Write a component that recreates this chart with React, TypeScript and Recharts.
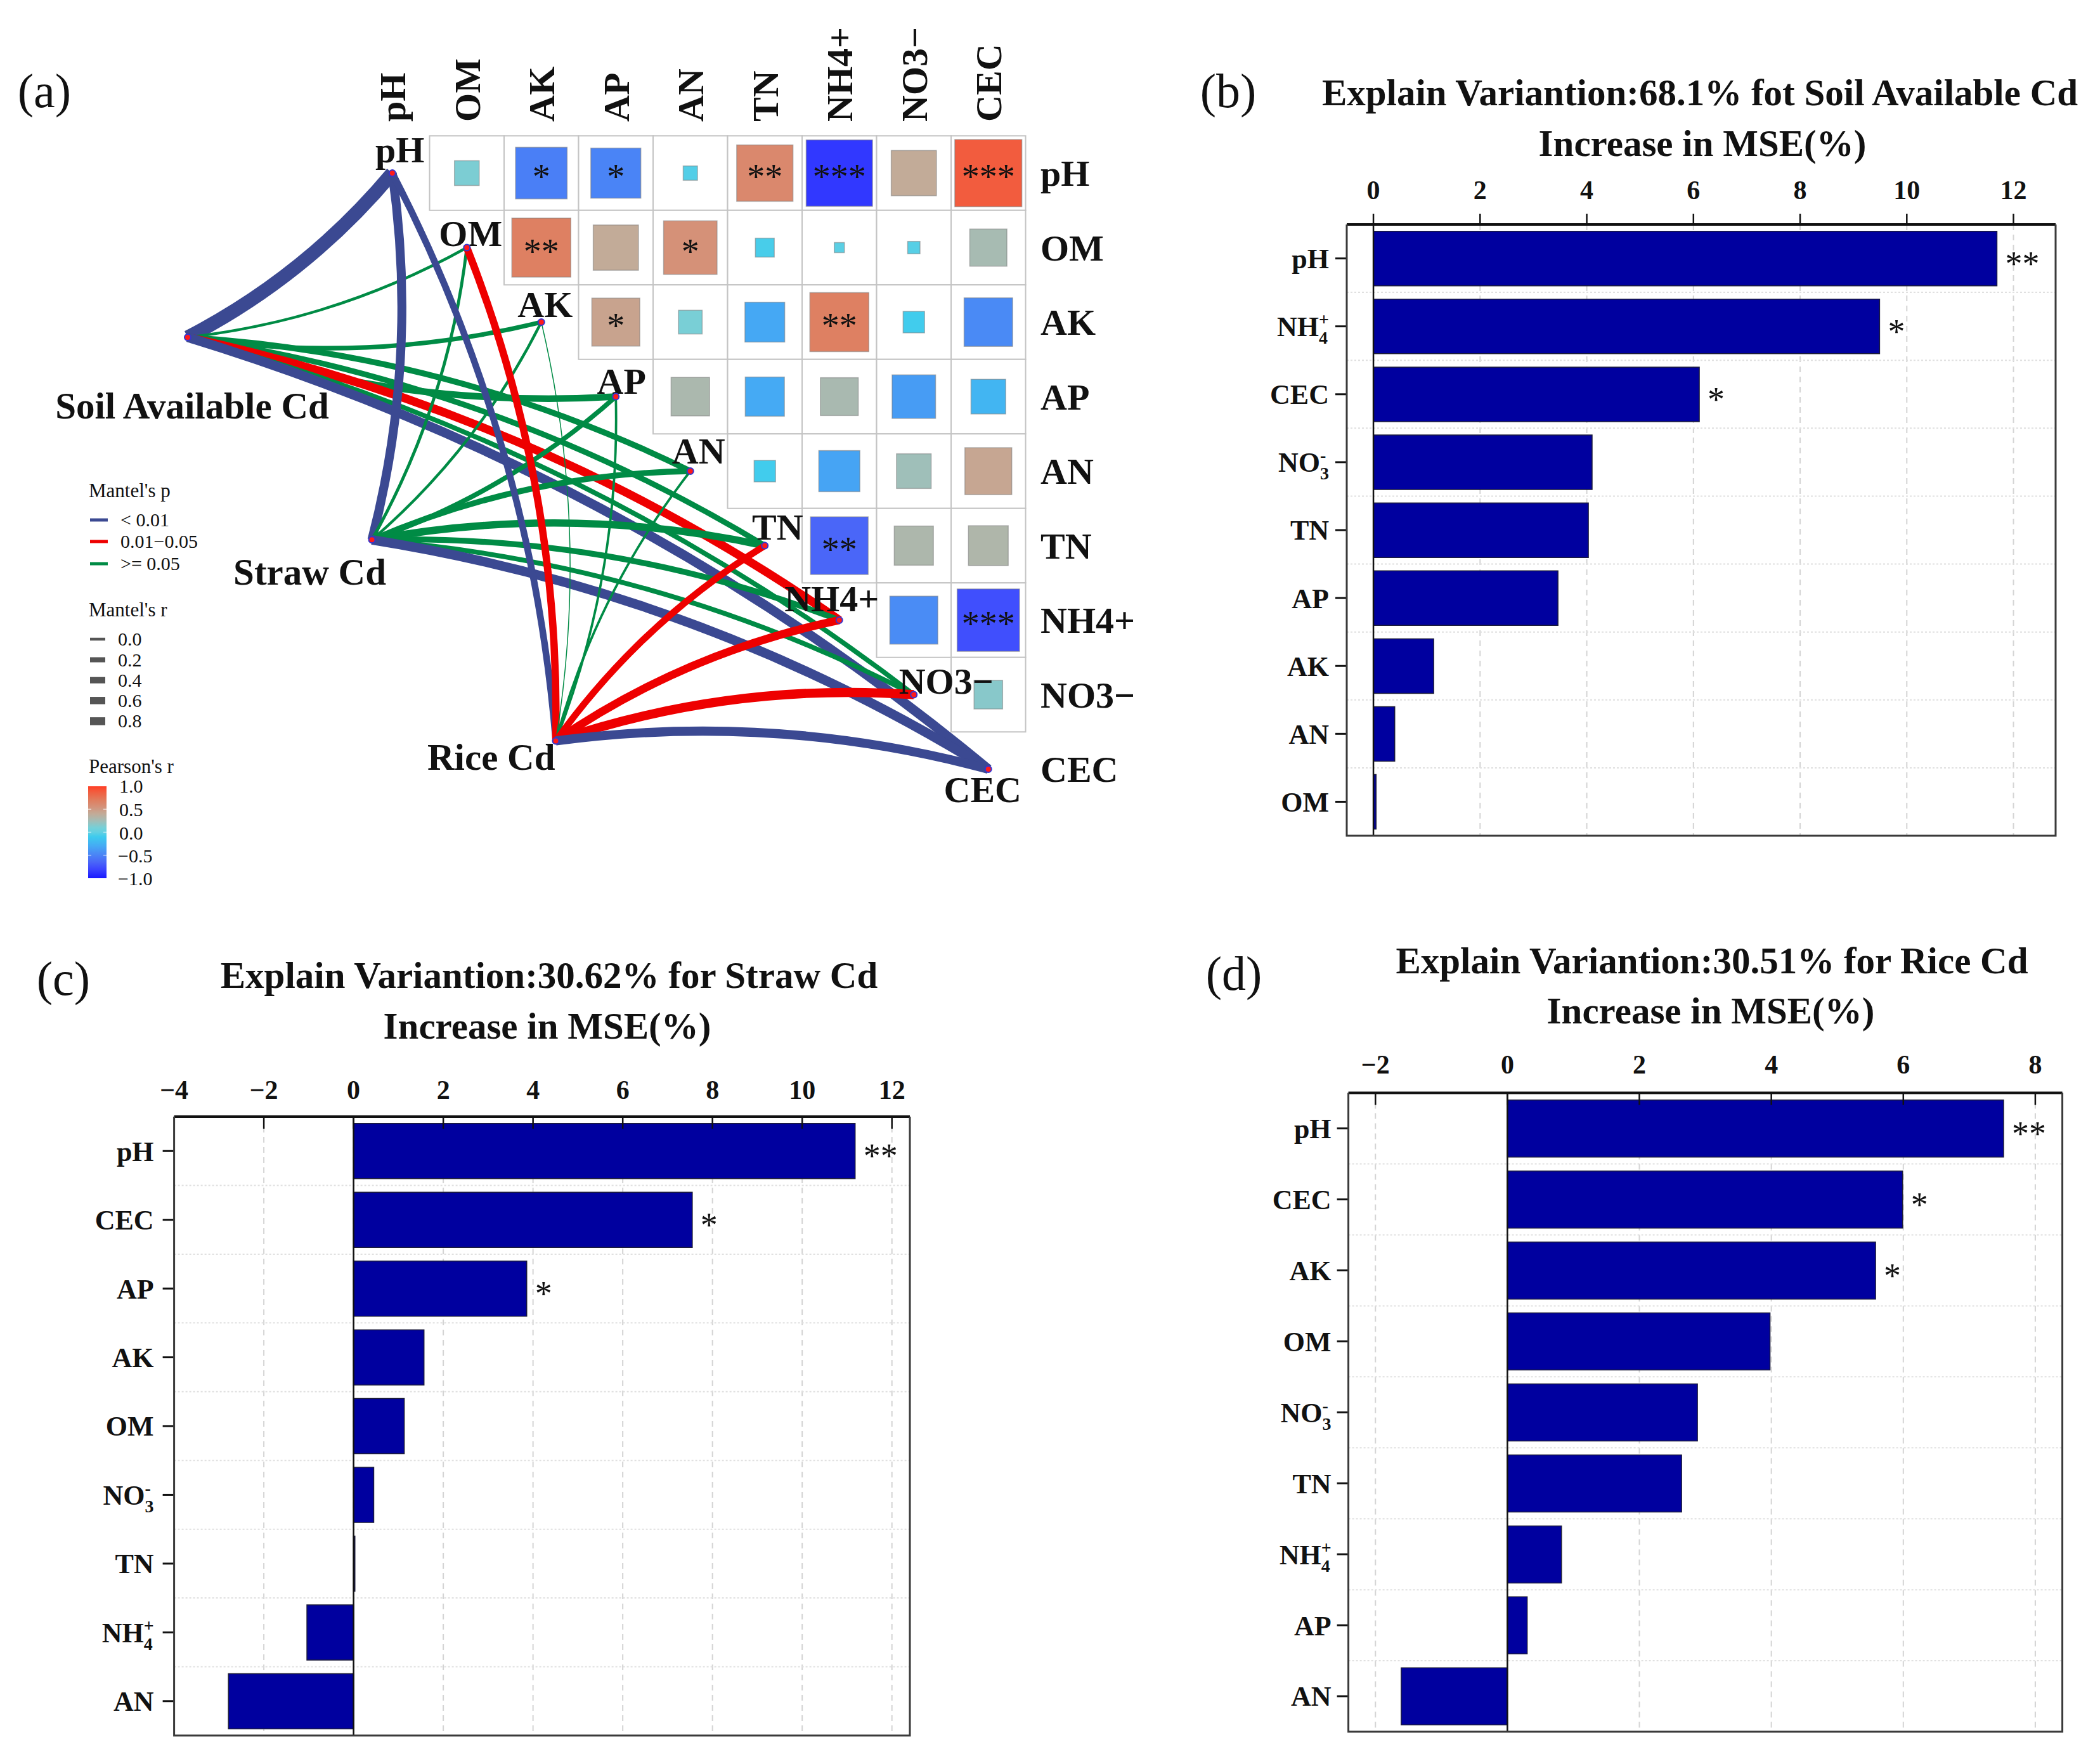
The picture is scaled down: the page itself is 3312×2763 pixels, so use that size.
import React from "react";
import {
  ScatterChart,
  Scatter,
  XAxis,
  YAxis,
  BarChart,
  Bar,
  CartesianGrid,
  ReferenceLine,
  LabelList,
} from "recharts";

const SERIF = '"Liberation Serif", "Times New Roman", Times, serif';

// ---------------- panel (a) data ----------------
const VARS = ["pH", "OM", "AK", "AP", "AN", "TN", "NH4+", "NO3−", "CEC"];

// Pearson's r, upper triangle: row i holds columns i+1..8
const PEARSON_R = [
  [0.12, -0.52, -0.49, -0.04, 0.62, -0.86, 0.4, 0.88],
  [0.68, 0.4, 0.56, -0.07, -0.02, -0.03, 0.27],
  [0.45, 0.11, -0.31, 0.68, -0.09, -0.46],
  [0.29, -0.3, 0.28, -0.37, -0.235],
  [-0.09, -0.33, 0.235, 0.43],
  [-0.65, 0.3, 0.31],
  [-0.45, -0.76],
  [0.16],
];
const PEARSON_SIG = [
  ["", "*", "*", "", "**", "***", "", "***"],
  ["**", "", "*", "", "", "", ""],
  ["*", "", "", "**", "", ""],
  ["", "", "", "", ""],
  ["", "", "", ""],
  ["**", "", ""],
  ["", "***"],
  [""],
];

const ENV_NAMES = ["Soil Available Cd", "Straw Cd", "Rice Cd"];
// env node positions in cell units (column, row)
const ENV_U = [-2.747, -0.274, 2.194];
const ENV_V = [2.204, 4.922, 7.621];

const MANTEL_P = [
  ["<0.01", ">=0.05", ">=0.05", ">=0.05", ">=0.05", ">=0.05", "0.01-0.05", ">=0.05", "<0.01"],
  ["<0.01", ">=0.05", ">=0.05", ">=0.05", ">=0.05", ">=0.05", ">=0.05", ">=0.05", "<0.01"],
  ["<0.01", "0.01-0.05", ">=0.05", ">=0.05", ">=0.05", "0.01-0.05", "0.01-0.05", "0.01-0.05", "<0.01"],
];
const MANTEL_R = [
  [0.72, 0.1, 0.2, 0.32, 0.28, 0.26, 0.42, 0.22, 0.48],
  [0.45, 0.12, 0.1, 0.22, 0.28, 0.36, 0.28, 0.22, 0.48],
  [0.32, 0.36, 0.0, 0.08, 0.08, 0.32, 0.4, 0.46, 0.46],
];

// ---------------- panels (b)-(d) data ----------------
const B_CATS = ["pH", "NH4+", "CEC", "NO3-", "TN", "AP", "AK", "AN", "OM"];
const B_VALUES = [11.69, 9.49, 6.11, 4.1, 4.03, 3.46, 1.13, 0.4, 0.05];
const B_SIG = ["**", "*", "*", "", "", "", "", "", ""];
const B_TICKS = [0, 2, 4, 6, 8, 10, 12];

const C_CATS = ["pH", "CEC", "AP", "AK", "OM", "NO3-", "TN", "NH4+", "AN"];
const C_VALUES = [11.18, 7.55, 3.86, 1.57, 1.13, 0.45, 0.03, -1.04, -2.79];
const C_SIG = ["**", "*", "*", "", "", "", "", "", ""];
const C_TICKS = [-4, -2, 0, 2, 4, 6, 8, 10, 12];

const D_CATS = ["pH", "CEC", "AK", "OM", "NO3-", "TN", "NH4+", "AP", "AN"];
const D_VALUES = [7.52, 5.99, 5.58, 3.98, 2.88, 2.64, 0.82, 0.3, -1.61];
const D_SIG = ["**", "*", "*", "", "", "", "", "", ""];
const D_TICKS = [-2, 0, 2, 4, 6, 8];

// ---------------- styles ----------------
const P_COLORS: Record<string, string> = {
  "<0.01": "#3B4992",
  "0.01-0.05": "#EE0000",
  ">=0.05": "#008B45",
};
const R_STOPS = [-1, -0.8, -0.65, -0.45, -0.3, -0.1, 0, 0.1, 0.25, 0.4, 0.55, 0.7, 0.9, 1];
const R_COLS = [
  "#1818ff", "#3c46ff", "#4a66f8", "#4a8cf5", "#45aaf4", "#3dcbee", "#62d0e2",
  "#76d0d8", "#a3bdb6", "#c2ab98", "#d4927a", "#e07d5e", "#f4583a", "#ff3d24",
];

function hexToRgb(h: string) {
  const n = parseInt(h.slice(1), 16);
  return [(n >> 16) & 255, (n >> 8) & 255, n & 255];
}
function rColor(r: number) {
  const v = Math.max(-1, Math.min(1, r));
  let k = 0;
  while (k < R_STOPS.length - 2 && v > R_STOPS[k + 1]) k++;
  const t = (v - R_STOPS[k]) / (R_STOPS[k + 1] - R_STOPS[k]);
  const a = hexToRgb(R_COLS[k]);
  const b = hexToRgb(R_COLS[k + 1]);
  const c = a.map((x, i) => Math.round(x + (b[i] - x) * t));
  return `rgb(${c[0]},${c[1]},${c[2]})`;
}

// layout of panel (a)
const A_W = 1800;
const A_H = 1450;
const CELL = 117.5;
const COL0_X = 618.75;
const ROW0_Y = 273;
const U_DOMAIN = [-COL0_X / CELL, (A_W - COL0_X) / CELL];
const V_DOMAIN = [-ROW0_Y / CELL, (A_H - ROW0_Y) / CELL];
const HEAD_V = -0.69;
const SIDE_U = 8.7;
// label offsets (px) from node: [dx to text centre, dy to baseline]
const DIAG_LABEL_OFF = [
  [12, -17], [6, -3], [6, -8], [9, -5], [13, -12], [20, -10], [-12, -14], [51, -2], [-9, 52],
];
const ENV_LABEL_OFF: [number, number, "start" | "middle" | "end"][] = [
  [7, 128, "middle"],
  [-98, 71, "middle"],
  [-1, 46, "end"],
];

const NoShape = () => <g />;

const CellFrame = (p: any) => (
  <rect
    x={p.cx - CELL / 2}
    y={p.cy - CELL / 2}
    width={CELL}
    height={CELL}
    fill="#fff"
    stroke="#c4c4c4"
    strokeWidth={2}
  />
);

const CellSquare = (p: any) => {
  const r = p.payload.r;
  const s = CELL * 0.96 * Math.sqrt(Math.abs(r));
  return (
    <g>
      <rect
        x={p.cx - s / 2}
        y={p.cy - s / 2}
        width={s}
        height={s}
        fill={rColor(r)}
        stroke="#808080"
        strokeOpacity={0.55}
        strokeWidth={1.5}
      />
      {p.payload.sig ? (
        <text x={p.cx} y={p.cy + 25} textAnchor="middle" fontFamily={SERIF} fontSize={56} fill="#111">
          {p.payload.sig}
        </text>
      ) : null}
    </g>
  );
};

const HeadLabel = (p: any) => (
  <text
    x={p.cx}
    y={p.cy}
    dy="0.35em"
    transform={`rotate(-90, ${p.cx}, ${p.cy})`}
    textAnchor="start"
    fontFamily={SERIF}
    fontWeight="bold"
    fontSize={58}
    fill="#111"
  >
    {p.payload.name}
  </text>
);

const SideLabel = (p: any) => (
  <text x={p.cx} y={p.cy} dy="0.35em" fontFamily={SERIF} fontWeight="bold" fontSize={58} fill="#111">
    {p.payload.name}
  </text>
);

const DiagNode = (p: any) => {
  const i = p.payload.i;
  const [dx, dy] = DIAG_LABEL_OFF[i];
  return (
    <g>
      <text
        x={p.cx + dx}
        y={p.cy + dy}
        textAnchor="middle"
        fontFamily={SERIF}
        fontWeight="bold"
        fontSize={58}
        fill="#111"
      >
        {VARS[i]}
      </text>
      <circle cx={p.cx} cy={p.cy} r={5} fill="#ff1a1a" stroke="#3535d0" strokeWidth={2} />
    </g>
  );
};

const EnvNode = (p: any) => {
  const e = p.payload.e;
  const [dx, dy, anchor] = ENV_LABEL_OFF[e];
  return (
    <g>
      <text
        x={p.cx + dx}
        y={p.cy + dy}
        textAnchor={anchor}
        fontFamily={SERIF}
        fontWeight="bold"
        fontSize={59}
        fill="#111"
      >
        {ENV_NAMES[e]}
      </text>
      <circle cx={p.cx} cy={p.cy} r={5} fill="#ff1a1a" stroke="#3535d0" strokeWidth={2} />
    </g>
  );
};

// curved Mantel link; bends to one side depending on the target variable
const makeEdge = (e: number, k: number) => (lp: any) => {
  const pts = lp.points || [];
  if (pts.length < 2) return <g />;
  const a = pts[0];
  const b = pts[1];
  const dx = b.x - a.x;
  const dy = b.y - a.y;
  const s = (k <= 3 ? 1 : -1) * 0.1;
  const mx = (a.x + b.x) / 2 - dy * s;
  const my = (a.y + b.y) / 2 + dx * s;
  return (
    <path
      d={`M${a.x},${a.y}Q${mx},${my} ${b.x},${b.y}`}
      fill="none"
      stroke={P_COLORS[MANTEL_P[e][k]]}
      strokeWidth={1.5 + 28 * MANTEL_R[e][k]}
    />
  );
};

function MantelPanel() {
  const frames: any[] = [];
  const squares: any[] = [];
  PEARSON_R.forEach((row, i) =>
    row.forEach((r, k) => {
      const j = i + 1 + k;
      frames.push({ u: j, v: i });
      squares.push({ u: j, v: i, r, sig: PEARSON_SIG[i][k] });
    })
  );
  const diag = VARS.map((_, i) => ({ u: i, v: i, i }));
  const heads = VARS.map((name, j) => ({ u: j, v: HEAD_V, name }));
  const sides = VARS.map((name, i) => ({ u: SIDE_U, v: i, name }));
  const envs = ENV_NAMES.map((_, e) => ({ u: ENV_U[e], v: ENV_V[e], e }));
  const edges: { e: number; k: number }[] = [];
  ENV_NAMES.forEach((_, e) => VARS.forEach((__, k) => edges.push({ e, k })));

  return (
    <div style={{ position: "absolute", left: 0, top: 0 }}>
      <ScatterChart width={A_W} height={A_H} margin={{ top: 0, right: 0, bottom: 0, left: 0 }}>
        <XAxis type="number" dataKey="u" domain={U_DOMAIN} allowDataOverflow hide />
        <YAxis type="number" dataKey="v" domain={V_DOMAIN} allowDataOverflow reversed hide />
        <Scatter data={frames} shape={CellFrame} isAnimationActive={false} />
        <Scatter data={squares} shape={CellSquare} isAnimationActive={false} />
        {edges.map(({ e, k }) => (
          <Scatter
            key={`edge-${e}-${k}`}
            data={[envs[e], diag[k]]}
            line={makeEdge(e, k)}
            lineType="joint"
            shape={NoShape}
            isAnimationActive={false}
          />
        ))}
        <Scatter data={heads} shape={HeadLabel} isAnimationActive={false} />
        <Scatter data={sides} shape={SideLabel} isAnimationActive={false} />
        <Scatter data={diag} shape={DiagNode} isAnimationActive={false} />
        <Scatter data={envs} shape={EnvNode} isAnimationActive={false} />
      </ScatterChart>
    </div>
  );
}

// ---------------- bar panels ----------------
type PanelCfg = {
  left: number;
  top: number;
  width: number;
  height: number;
  plot: { l: number; t: number; r: number; b: number };
  yw: number;
  domain: [number, number];
  ticks: number[];
  tickInside: boolean;
  labelBase: number; // page y of tick label baseline
  yLabelGap: number;
};

const PANEL_B: PanelCfg = {
  left: 1880, top: 200, width: 1432, height: 1200,
  plot: { l: 2124, t: 354, r: 3242, b: 1318 },
  yw: 150, domain: [-0.5, 12.79], ticks: B_TICKS, tickInside: false, labelBase: 314, yLabelGap: 28,
};
const PANEL_C: PanelCfg = {
  left: 0, top: 1650, width: 1500, height: 1113,
  plot: { l: 274.6, t: 1761, r: 1435, b: 2737 },
  yw: 160, domain: [-4, 12.4], ticks: C_TICKS, tickInside: true, labelBase: 1733, yLabelGap: 32,
};
const PANEL_D: PanelCfg = {
  left: 1880, top: 1600, width: 1432, height: 1163,
  plot: { l: 2126.6, t: 1723.6, r: 3252.6, b: 2731 },
  yw: 150, domain: [-2.41, 8.41], ticks: D_TICKS, tickInside: true, labelBase: 1693, yLabelGap: 27,
};

const CatLabel = ({ x, y, name }: { x: number; y: number; name: string }) => {
  const common = { x, y, textAnchor: "end" as const, fontFamily: SERIF, fontWeight: "bold", fontSize: 44, fill: "#111" };
  if (name === "NH4+" || name === "NO3-") {
    const base = name === "NH4+" ? "NH" : "NO";
    const sub = name === "NH4+" ? "4" : "3";
    const sup = name === "NH4+" ? "+" : "-";
    return (
      <text {...common} dy="0.35em">
        {base}
        <tspan fontSize={28} dy={12}>
          {sub}
        </tspan>
        <tspan fontSize={28} dx={-14} dy={-29}>
          {sup}
        </tspan>
      </text>
    );
  }
  return (
    <text {...common} dy="0.35em">
      {name}
    </text>
  );
};

const StarLabel = (p: any) => {
  if (!p.value) return null;
  const vb = p.viewBox || p;
  const x = vb.x + vb.width + 13;
  const y = vb.y + vb.height / 2 + 26;
  return (
    <text x={x} y={y} fontFamily={SERIF} fontSize={54} fill="#111">
      {p.value}
    </text>
  );
};

function ImportancePanel({ cfg, cats, values, sigs }: { cfg: PanelCfg; cats: string[]; values: number[]; sigs: string[] }) {
  const data = cats.map((name, i) => ({ name, value: values[i], sig: sigs[i] }));
  const axisH = 60;
  const plotTop = cfg.plot.t - cfg.top;
  const plotLeft = cfg.plot.l - cfg.left;
  const plotH = cfg.plot.b - cfg.plot.t;
  const margin = {
    top: plotTop - axisH,
    left: plotLeft - cfg.yw,
    right: cfg.left + cfg.width - cfg.plot.r,
    bottom: cfg.top + cfg.height - cfg.plot.b,
  };
  const bounds = cats.slice(1).map((_, k) => plotTop + ((k + 1) * plotH) / cats.length);
  const labelY = cfg.labelBase - cfg.top;

  const xTick = (p: any) => {
    const v = p.payload.value;
    const x = p.x;
    const txt = v < 0 ? `−${Math.abs(v)}` : String(v);
    const y1 = plotTop;
    const y2 = cfg.tickInside ? plotTop + 19 : plotTop - 17;
    return (
      <g>
        <text x={x} y={labelY} textAnchor="middle" fontFamily={SERIF} fontWeight="bold" fontSize={42} fill="#111">
          {txt}
        </text>
        {v !== cfg.domain[0] ? <line x1={x} x2={x} y1={y1} y2={y2} stroke="#111" strokeWidth={2.5} /> : null}
      </g>
    );
  };
  const yTick = (p: any) => (
    <g>
      <line x1={plotLeft - 18} x2={plotLeft} y1={p.y} y2={p.y} stroke="#111" strokeWidth={3} />
      <CatLabel x={plotLeft - cfg.yLabelGap} y={p.y} name={p.payload.value} />
    </g>
  );

  return (
    <div style={{ position: "absolute", left: cfg.left, top: cfg.top }}>
      <BarChart
        width={cfg.width}
        height={cfg.height}
        data={data}
        layout="vertical"
        margin={margin}
        barCategoryGap="10%"
      >
        <CartesianGrid horizontal={false} stroke="#d4d4d4" strokeDasharray="9 7" strokeWidth={2} />
        <CartesianGrid
          vertical={false}
          horizontalCoordinatesGenerator={() => bounds}
          stroke="#e0e0e0"
          strokeDasharray="3 3"
          strokeWidth={2}
        />
        <XAxis
          type="number"
          orientation="top"
          domain={cfg.domain}
          ticks={cfg.ticks}
          allowDataOverflow
          interval={0}
          height={axisH}
          axisLine={{ stroke: "#111", strokeWidth: 4 }}
          tickLine={false}
          tick={xTick}
        />
        <YAxis
          type="category"
          dataKey="name"
          width={cfg.yw}
          interval={0}
          axisLine={false}
          tickLine={false}
          tick={yTick}
        />
        <ReferenceLine x={0} stroke="#111" strokeWidth={2.5} />
        <Bar dataKey="value" fill="#00009f" stroke="#1c1c3a" strokeWidth={1.5} isAnimationActive={false}>
          <LabelList dataKey="sig" content={StarLabel} />
        </Bar>
      </BarChart>
    </div>
  );
}

// ---------------- overlay: titles, legend, frames ----------------
const T = ({ x, y, size, bold, anchor, children }: any) => (
  <text
    x={x}
    y={y}
    fontSize={size}
    fontWeight={bold ? "bold" : "normal"}
    textAnchor={anchor || "start"}
    fontFamily={SERIF}
    fill="#111"
  >
    {children}
  </text>
);

const LEGEND_P = ["< 0.01", "0.01−0.05", ">= 0.05"];
const LEGEND_P_KEYS = ["<0.01", "0.01-0.05", ">=0.05"];
const LEGEND_R = ["0.0", "0.2", "0.4", "0.6", "0.8"];
const LEGEND_R_H = [4.5, 8, 10, 11.5, 12.5];
const LEGEND_PEARSON = ["1.0", "0.5", "0.0", "−0.5", "−1.0"];

function Frame({ cfg }: { cfg: PanelCfg }) {
  const { l, t, r, b } = cfg.plot;
  return <path d={`M${l},${t} V${b} H${r} V${t}`} fill="none" stroke="#3a3a3a" strokeWidth={3} />;
}

function Overlay() {
  const pY = [820, 854, 889];
  const rY = [1008, 1040.5, 1072.7, 1104.8, 1137.4];
  const cbTop = 1240;
  const cbBot = 1385;
  const cbLabY = [1250, 1287, 1324, 1359.5, 1396];
  return (
    <svg
      width={3312}
      height={2763}
      style={{ position: "absolute", left: 0, top: 0, pointerEvents: "none" }}
    >
      <defs>
        <linearGradient id="pearsonBar" x1="0" y1="0" x2="0" y2="1">
          {R_STOPS.map((r, i) => (
            <stop key={i} offset={(1 - r) / 2} stopColor={R_COLS[i]} />
          )).reverse()}
        </linearGradient>
      </defs>

      {/* panel letters */}
      <T x={70} y={169} size={76} anchor="middle">(a)</T>
      <T x={1937} y={169} size={76} anchor="middle">(b)</T>
      <T x={100} y={1569} size={76} anchor="middle">(c)</T>
      <T x={1946} y={1561} size={76} anchor="middle">(d)</T>

      {/* titles */}
      <T x={2681} y={166} size={59} bold anchor="middle">Explain Variantion:68.1% fot Soil Available Cd</T>
      <T x={2685} y={246} size={59} bold anchor="middle">Increase in MSE(%)</T>
      <T x={866} y={1558} size={59} bold anchor="middle">Explain Variantion:30.62% for Straw Cd</T>
      <T x={863} y={1638} size={59} bold anchor="middle">Increase in MSE(%)</T>
      <T x={2700} y={1535} size={59} bold anchor="middle">Explain Variantion:30.51% for Rice Cd</T>
      <T x={2698} y={1614} size={59} bold anchor="middle">Increase in MSE(%)</T>

      {/* panel (a) legend */}
      <T x={140} y={784} size={31}>Mantel's p</T>
      {LEGEND_P.map((lab, i) => (
        <g key={lab}>
          <rect x={142} y={pY[i] - 2.5} width={28} height={5} fill={P_COLORS[LEGEND_P_KEYS[i]]} />
          <T x={190} y={pY[i] + 10} size={30}>{lab}</T>
        </g>
      ))}
      <T x={140} y={972} size={31}>Mantel's r</T>
      {LEGEND_R.map((lab, i) => (
        <g key={lab}>
          <rect x={142} y={rY[i] - LEGEND_R_H[i] / 2} width={24} height={LEGEND_R_H[i]} fill="#555" />
          <T x={186} y={rY[i] + 10} size={30}>{lab}</T>
        </g>
      ))}
      <T x={140} y={1219} size={31}>Pearson's r</T>
      <rect x={139} y={cbTop} width={29} height={cbBot - cbTop} fill="url(#pearsonBar)" />
      {[0.25, 0.5, 0.75].map((f) => (
        <g key={f}>
          <line x1={139} x2={144} y1={cbTop + f * (cbBot - cbTop)} y2={cbTop + f * (cbBot - cbTop)} stroke="#fff" strokeOpacity={0.6} strokeWidth={1.5} />
          <line x1={163} x2={168} y1={cbTop + f * (cbBot - cbTop)} y2={cbTop + f * (cbBot - cbTop)} stroke="#fff" strokeOpacity={0.6} strokeWidth={1.5} />
        </g>
      ))}
      {LEGEND_PEARSON.map((lab, i) => (
        <T key={lab} x={lab.startsWith("−") ? 186 : 188} y={cbLabY[i]} size={30}>{lab}</T>
      ))}

      <Frame cfg={PANEL_B} />
      <Frame cfg={PANEL_C} />
      <Frame cfg={PANEL_D} />
    </svg>
  );
}

export default function App() {
  return (
    <div
      style={{
        position: "absolute",
        left: 0,
        top: 0,
        width: 3312,
        height: 2763,
        background: "#fff",
        overflow: "hidden",
      }}
    >
      <MantelPanel />
      <ImportancePanel cfg={PANEL_B} cats={B_CATS} values={B_VALUES} sigs={B_SIG} />
      <ImportancePanel cfg={PANEL_C} cats={C_CATS} values={C_VALUES} sigs={C_SIG} />
      <ImportancePanel cfg={PANEL_D} cats={D_CATS} values={D_VALUES} sigs={D_SIG} />
      <Overlay />
    </div>
  );
}
